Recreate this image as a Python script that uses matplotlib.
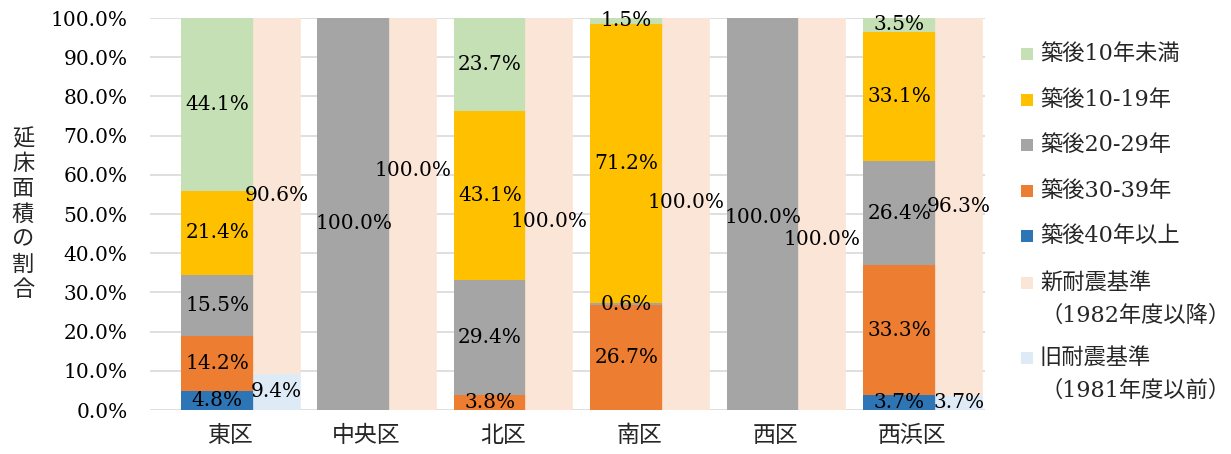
import matplotlib
matplotlib.use("Agg")
import matplotlib.pyplot as plt
from matplotlib.patches import Rectangle
import numpy as np

plt.rcParams['font.family'] = ['DejaVu Serif', 'Noto Sans CJK JP']

# --- data -------------------------------------------------------------
districts = ["東区", "中央区", "北区", "南区", "西区", "西浜区"]

# floor-area share by building age (%)
age_40_plus = [4.8, 0.0, 0.0, 0.0, 0.0, 3.7]
age_30_39 = [14.2, 0.0, 3.8, 26.7, 0.0, 33.3]
age_20_29 = [15.5, 100.0, 29.4, 0.6, 100.0, 26.4]
age_10_19 = [21.4, 0.0, 43.1, 71.2, 0.0, 33.1]
age_under_10 = [44.1, 0.0, 23.7, 1.5, 0.0, 3.5]

# floor-area share by seismic standard (%)
old_standard = [9.4, 0.0, 0.0, 0.0, 0.0, 3.7]
new_standard = [90.6, 100.0, 100.0, 100.0, 100.0, 96.3]

age_labels = ["築後40年以上", "築後30-39年", "築後20-29年", "築後10-19年", "築後10年未満"]
std_labels = ["旧耐震基準\n（1981年度以前）", "新耐震基準\n（1982年度以降）"]
y_title = "延床面積の割合"

# --- style ------------------------------------------------------------
age_colors = ["#2E75B6", "#ED7D31", "#A5A5A5", "#FFC000", "#C5E0B4"]
std_colors = ["#DEEBF7", "#FBE5D6"]

# small vertical nudges (in %) for a few labels so they do not collide
left_nudge = {(1, 2): -2.3, (4, 2): -1.0}
right_nudge = {(1, 1): 11.0, (2, 1): -2.0, (3, 1): 3.0, (4, 1): -6.6}

W, H = 1231, 454
fig = plt.figure(figsize=(W / 100, H / 100), dpi=100)
ax = fig.add_axes([150 / W, 1 - 410 / H, 835 / W, 392 / H])

x = np.arange(len(districts))
left_off, left_w = -0.36, 0.533
right_off, right_w = 0.173, 0.337

label_fs = 14.5

# stacked bars by building age
bottom = np.zeros(len(districts))
for k, (vals, col) in enumerate(zip(
        [age_40_plus, age_30_39, age_20_29, age_10_19, age_under_10], age_colors)):
    vals = np.array(vals)
    ax.bar(x + left_off, vals, width=left_w, bottom=bottom, align="edge",
           color=col, zorder=2)
    for i, v in enumerate(vals):
        if v > 0:
            yc = bottom[i] + v / 2 + left_nudge.get((i, k), 0.0)
            ax.text(x[i] + left_off + left_w / 2, yc, f"{v:.1f}%",
                    ha="center", va="center", fontsize=label_fs,
                    family="DejaVu Serif", zorder=4)
    bottom += vals

# stacked bars by seismic standard
bottom = np.zeros(len(districts))
for k, (vals, col) in enumerate(zip([old_standard, new_standard], std_colors)):
    vals = np.array(vals)
    ax.bar(x + right_off, vals, width=right_w, bottom=bottom, align="edge",
           color=col, edgecolor=col, linewidth=1.2, zorder=2)
    for i, v in enumerate(vals):
        if v > 0:
            yc = bottom[i] + v / 2 + right_nudge.get((i, k), 0.0)
            ax.text(x[i] + right_off + right_w / 2, yc, f"{v:.1f}%",
                    ha="center", va="center", fontsize=label_fs,
                    family="DejaVu Serif", zorder=4)
    bottom += vals

# axes
ax.set_xlim(-0.587, 5.535)
ax.set_ylim(0, 100)
ax.set_yticks(np.arange(0, 101, 10))
ax.set_yticklabels([f"{t:.1f}%" for t in np.arange(0, 101, 10)],
                   fontsize=label_fs, family="DejaVu Serif")
ax.set_xticks(x)
ax.set_xticklabels(districts, fontsize=16.5, family="Noto Sans CJK JP",
                   color="#262626")
ax.tick_params(axis="both", length=0)
ax.tick_params(axis="y", pad=16)
ax.tick_params(axis="x", pad=10)
ax.grid(axis="y", color="#D9D9D9", linewidth=1.2, zorder=0)
ax.set_axisbelow(True)
for s in ax.spines.values():
    s.set_visible(False)

# vertical y-axis title, one character per line
fig.text(23 / W, 1 - 214 / H, "\n".join(y_title), ha="center", va="center",
         fontsize=16, family="Noto Sans CJK JP", linespacing=1.12,
         color="#262626")

# legend
entries = [
    (age_under_10, age_colors[4], [age_labels[4]], 54),
    (age_10_19, age_colors[3], [age_labels[3]], 100),
    (age_20_29, age_colors[2], [age_labels[2]], 145),
    (age_30_39, age_colors[1], [age_labels[1]], 191),
    (age_40_plus, age_colors[0], [age_labels[0]], 236),
    (new_standard, std_colors[1], std_labels[1].split("\n"), 283),
    (old_standard, std_colors[0], std_labels[0].split("\n"), 358),
]
for _, col, lines, yc in entries:
    fig.add_artist(Rectangle((1021 / W, 1 - (yc + 6) / H), 12 / W, 12 / H,
                             transform=fig.transFigure, facecolor=col,
                             edgecolor="none"))
    for j, line in enumerate(lines):
        fig.text(1040 / W, 1 - (yc + 33 * j) / H, line, ha="left", va="center",
                 fontsize=16, color="#262626")

fig.savefig("out.png", dpi=100)
